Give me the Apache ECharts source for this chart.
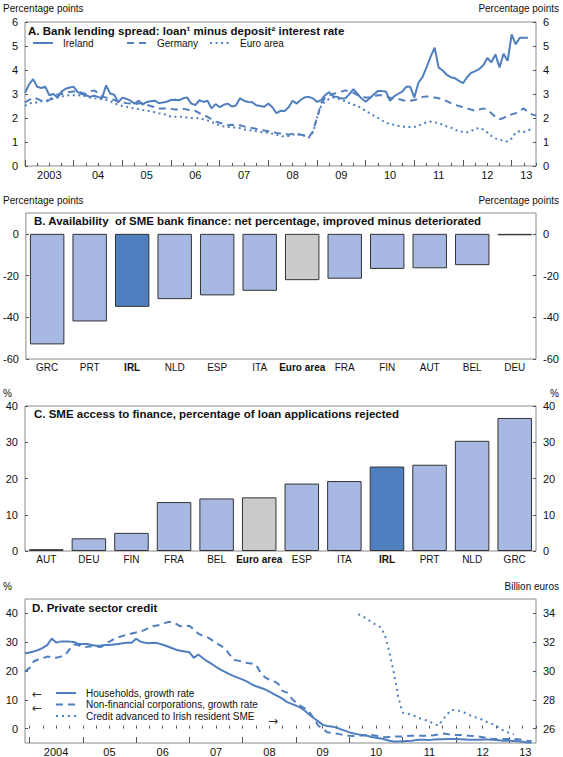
<!DOCTYPE html>
<html><head><meta charset="utf-8">
<script src="https://cdn.jsdelivr.net/npm/echarts@6/dist/echarts.min.js"></script>
<style>html,body{margin:0;padding:0;background:#fff}#c{width:563px;height:757px}</style>
</head><body><div id="c"></div>
<script>
// ---------- Panel A: bank lending spread, monthly from Jan 2003 ----------
const spreadStart = 2003;
const ireland = [3.05,3.4,3.62,3.3,3.25,3.3,2.95,3.0,2.85,3.1,3.22,3.27,
 3.3,3.08,3.0,2.95,2.88,2.93,2.88,2.82,3.36,3.02,2.97,2.65,
 2.85,2.8,2.72,2.6,2.72,2.56,2.67,2.7,2.72,2.62,2.65,2.68,
 2.75,2.76,2.74,2.82,2.85,2.6,2.54,2.74,2.67,2.72,2.4,2.58,
 2.45,2.55,2.6,2.48,2.52,2.82,2.72,2.67,2.66,2.53,2.5,2.47,
 2.6,2.45,2.2,2.3,2.29,2.45,2.72,2.6,2.76,2.86,2.88,2.82,
 2.67,2.74,2.95,3.08,2.9,2.88,2.81,2.82,3.0,3.2,3.0,2.81,
 2.68,2.82,2.98,3.12,3.12,3.1,2.72,2.9,3.0,3.1,3.3,3.3,
 2.85,3.47,3.7,4.11,4.55,4.93,4.1,3.98,3.8,3.7,3.66,3.55,
 3.45,3.7,3.88,3.95,4.04,4.2,4.5,4.32,4.65,4.11,4.68,4.38,
 5.48,5.07,5.34,5.34,5.34];
const germany = [2.65,2.75,2.85,2.8,2.72,2.65,2.75,2.9,2.98,3.0,3.05,3.08,
 3.1,3.1,3.05,3.0,3.1,3.15,3.05,2.9,2.85,2.8,2.75,2.68,
 2.65,2.62,2.6,2.58,2.6,2.62,2.55,2.5,2.45,2.4,2.4,2.4,
 2.38,2.35,2.35,2.38,2.35,2.3,2.3,2.2,2.1,2.05,1.95,1.85,
 1.8,1.75,1.7,1.72,1.68,1.7,1.65,1.62,1.58,1.55,1.5,1.48,
 1.45,1.42,1.38,1.35,1.35,1.3,1.35,1.32,1.3,1.28,1.2,1.45,
 2.0,2.6,2.85,2.95,3.0,3.05,3.1,3.15,3.1,3.05,2.95,2.9,
 2.85,2.85,2.9,2.95,2.95,2.9,2.85,2.8,2.8,2.75,2.7,2.72,
 2.75,2.8,2.88,2.9,2.88,2.85,2.82,2.78,2.7,2.62,2.55,2.5,
 2.45,2.4,2.35,2.3,2.35,2.4,2.35,2.2,2.05,1.95,2.0,2.1,
 2.15,2.2,2.3,2.4,2.25,2.15,2.1];
const euroArea = [2.5,2.6,2.65,2.65,2.7,2.72,2.75,2.8,2.85,2.9,2.92,2.95,
 2.95,2.95,2.93,2.9,2.85,2.82,2.8,2.78,2.75,2.7,2.62,2.55,
 2.5,2.47,2.43,2.4,2.37,2.33,2.3,2.27,2.24,2.2,2.17,2.13,
 2.05,2.05,2.05,2.05,2.02,2.0,2.0,1.98,1.95,1.9,1.85,1.75,
 1.7,1.65,1.62,1.6,1.6,1.58,1.52,1.5,1.48,1.45,1.42,1.4,
 1.38,1.35,1.3,1.25,1.22,1.25,1.3,1.35,1.3,1.25,1.18,1.4,
 2.0,2.5,2.7,2.8,2.85,2.82,2.75,2.7,2.62,2.55,2.5,2.4,
 2.3,2.2,2.1,2.0,1.9,1.8,1.75,1.72,1.68,1.65,1.62,1.62,
 1.63,1.68,1.75,1.82,1.85,1.82,1.78,1.72,1.65,1.6,1.52,1.45,
 1.42,1.4,1.45,1.55,1.58,1.52,1.4,1.25,1.15,1.1,1.05,1.02,
 1.15,1.4,1.45,1.42,1.48,1.55];
const yearLabelsA = ['2003','04','05','06','07','08','09','10','11','12','13'];

// ---------- Panel B ----------
const countriesB = ['GRC','PRT','IRL','NLD','ESP','ITA','Euro area','FRA','FIN','AUT','BEL','DEU'];
const availability = [-53,-42,-35,-31.3,-29.5,-27.3,-22.2,-21.5,-16.8,-16.5,-15,-0.7];

// ---------- Panel C ----------
const countriesC = ['AUT','DEU','FIN','FRA','BEL','Euro area','ESP','ITA','IRL','PRT','NLD','GRC'];
const rejected = [0.5,3.5,5.0,13.5,14.5,14.8,18.6,19.3,23.3,23.8,30.4,36.7];

// ---------- Panel D: monthly from Dec 2003 ----------
const creditStart = 2003 + 11/12;
const households = [26.2,26.4,26.8,27.3,28,29,31.3,29.9,30.2,30.2,30.2,30.1,
 29.4,29.4,29.4,29.0,28.8,28.8,29.0,29.0,29.2,29.4,29.6,29.8,
 29.8,31.2,30.2,29.8,29.6,29.8,29.6,29.1,28.6,28.0,27.4,27.0,
 26.8,26.5,24.6,25.7,24.5,23.4,22.5,21.4,20.5,19.7,18.9,18.2,
 17.6,17.0,16.3,15.4,14.7,14.2,13.6,12.8,12.0,11.2,10.3,9.2,
 8.6,8.0,7.3,6.2,4.8,3.6,2.5,1.3,0.9,0.7,0.4,-0.2,
 -0.7,-1.3,-1.7,-2.0,-2.3,-2.5,-2.9,-3.2,-3.4,-3.8,-4.2,-4.5,
 -4.5,-4.4,-4.3,-4.2,-4.0,-3.9,-3.9,-4.0,-3.8,-3.7,-3.7,-3.6,
 -3.6,-3.6,-3.7,-3.8,-3.9,-3.9,-3.9,-3.8,-3.8,-3.9,-4.0,-4.1,
 -4.2,-4.2,-4.3,-4.4,-4.6,-4.8,-4.8];
const nfc = [19.8,21.0,23.4,24.0,24.4,25.0,24.8,24.6,25.0,25.4,27.5,29.2,
 29.0,28.3,28.4,28.6,28.4,28.3,29.2,30.2,31.1,31.7,32.2,32.6,
 33.0,33.4,33.7,34.3,35.2,35.6,35.9,36.4,36.9,37.1,36.4,35.5,
 35.5,35.7,34.4,33.0,32.2,31.8,30.8,29.7,28.8,27.9,25.8,23.8,
 23.6,23.2,22.8,22.6,22.2,19.5,17.8,17.0,16.5,15.5,13.0,12.5,
 10.5,9.0,7.9,7.0,5.8,3.5,1.0,0.0,-1.3,-1.5,-1.7,-2.0,
 -2.3,-2.5,-2.6,-2.5,-2.3,-2.2,-2.2,-2.5,-2.8,-3.0,-2.9,-2.8,
 -2.7,-2.7,-2.6,-2.5,-2.5,-2.5,-2.5,-2.5,-2.3,-2.0,-1.7,-1.9,
 -2.2,-2.2,-2.2,-2.3,-2.5,-2.6,-2.7,-3.0,-3.3,-3.5,-3.6,-3.6,
 -3.6,-3.6,-3.6,-3.7,-3.9,-4.2,-4.3];
const smeStart = 2010 + 2/12; // Mar 2010
const smeCredit = [33.95,33.8,33.6,33.4,33.2,33.05,32.5,31.3,29.9,28.2,27.1,27.05,
 26.95,26.85,26.7,26.6,26.5,26.35,26.2,26.6,27.0,27.3,27.3,27.2,
 27.1,26.95,26.8,26.75,26.6,26.45,26.35,26.2,26.0,25.8,25.7,25.6];
const yearLabelsD = ['2004','05','06','07','08','09','10','11','12','13'];

// ---------- helpers ----------
const FONT = '"Liberation Sans", Arial, sans-serif';
const BLUE = '#4f7fbf', LIGHT = '#a7b8e2', GRAY = '#cbcbcb', TXT = '#111';
const monthly = (start, arr) => arr.map((v, i) => [start + i / 12, v]);
function range(a, b, step) { const r = []; for (let v = a; v <= b + 1e-9; v += step) r.push(+v.toFixed(4)); return r; }
function barItems(names, vals) {
  return vals.map((v, i) => ({ value: v, itemStyle: { color: names[i] === 'IRL' ? BLUE : (names[i] === 'Euro area' ? GRAY : LIGHT) } }));
}
const boldCat = v => (v === 'IRL' || v === 'Euro area') ? '{b|' + v + '}' : v;

const gridBase = { left: 25, right: 27, show: true, borderColor: '#8a8a8a', borderWidth: 1 };
const hidden = { show: false };

function timeAxes(gi, min, max, firstYear, lastYear, labels, lastLabelPos) {
  const labelPos = range(firstYear + 0.5, lastYear - 0.5, 1);
  labelPos.push(lastLabelPos);
  return [
    { gridIndex: gi, type: 'value', min: min, max: max, axisLine: hidden, splitLine: hidden,
      axisTick: { inside: true, length: 3, customValues: range(Math.ceil(min * 4) / 4, max, 0.25), lineStyle: { color: '#555' } },
      axisLabel: { customValues: labelPos, formatter: v => labels[Math.floor(v + 1e-6) - firstYear],
        fontSize: 11, color: TXT, margin: 3, fontFamily: FONT } },
    { gridIndex: gi, type: 'value', min: min, max: max, position: 'bottom', axisLine: hidden, splitLine: hidden,
      axisTick: { inside: true, length: 6, customValues: range(firstYear, lastYear, 1), lineStyle: { color: '#555' } },
      axisLabel: hidden }
  ];
}

const catLabel = { interval: 0, fontSize: 10, color: TXT, margin: 3, fontFamily: FONT, formatter: boldCat,
  rich: { b: { fontWeight: 'bold', fontSize: 10, color: TXT, fontFamily: FONT } } };
const xAxes = [
  ...timeAxes(0, 2003, 2013.5, 2003, 2013, yearLabelsA, 2013.3),
  { gridIndex: 1, type: 'category', data: countriesB, axisLine: hidden, axisTick: hidden, axisLabel: catLabel },
  { gridIndex: 2, type: 'category', data: countriesC, axisLine: hidden, axisTick: hidden, axisLabel: catLabel },
  ...timeAxes(3, creditStart, 2013.5, 2004, 2013, yearLabelsD, 2013.3)
];

function yAx(gi, pos, opts) {
  return Object.assign({ gridIndex: gi, type: 'value', position: pos, axisLine: hidden, splitLine: hidden,
    axisTick: { show: true, inside: true, length: 3, lineStyle: { color: '#555' } },
    axisLabel: { fontSize: 11, color: TXT, margin: 7, fontFamily: FONT } }, opts);
}
const yAxes = [
  yAx(0, 'left', { min: 0, max: 6, interval: 1 }),
  yAx(0, 'right', { min: 0, max: 6, interval: 1 }),
  yAx(1, 'left', { min: -60, max: 10, interval: 20 }),
  yAx(1, 'right', { min: -60, max: 10, interval: 20 }),
  yAx(2, 'left', { min: 0, max: 40, interval: 10 }),
  yAx(2, 'right', { min: 0, max: 40, interval: 10 }),
  yAx(3, 'left', { min: -5, max: 45 }),
  yAx(3, 'right', { min: 25, max: 35 })
];
yAxes[2].axisLabel.showMaxLabel = false; yAxes[3].axisLabel.showMaxLabel = false;
yAxes[6].axisLabel.customValues = [0, 10, 20, 30, 40]; yAxes[6].axisTick.customValues = [0, 10, 20, 30, 40];
yAxes[7].axisLabel.customValues = [26, 28, 30, 32, 34]; yAxes[7].axisTick.customValues = [26, 28, 30, 32, 34];

const lineSeries = (name, data, xi, yi, type) => ({
  name, type: 'line', data, xAxisIndex: xi, yAxisIndex: yi, symbol: 'none', showSymbol: false,
  lineStyle: { color: BLUE, width: 2, type: type }, itemStyle: { color: BLUE }
});

const txt = (text, x, y, opt) => ({ type: 'text', x, y, silent: true,
  style: Object.assign({ text, fill: TXT, font: '10px ' + FONT, textVerticalAlign: 'middle', textAlign: 'left' }, opt || {}) });
const TITLE = 'bold 11.5px ' + FONT;
const ARROW = { font: '12px "DejaVu Sans"', fill: '#333' };

const legendBase = { selectedMode: false, padding: 0, itemWidth: 20, itemHeight: 12,
  itemStyle: { opacity: 0, borderWidth: 0 },
  textStyle: { fontSize: 10, color: TXT, fontFamily: FONT, padding: [0, 0, 0, 5] } };

const option = {
  animation: false,
  backgroundColor: '#fff',
  textStyle: { fontFamily: FONT },
  grid: [
    Object.assign({ top: 22, height: 144 }, gridBase),
    Object.assign({ top: 213, height: 146 }, gridBase),
    Object.assign({ top: 406, height: 145 }, gridBase),
    Object.assign({ top: 599, height: 145 }, gridBase)
  ],
  xAxis: xAxes,
  yAxis: yAxes,
  legend: [
    Object.assign({ data: ['Ireland'], left: 32, top: 38 }, legendBase),
    Object.assign({ data: ['Germany'], left: 126, top: 38 }, legendBase),
    Object.assign({ data: ['Euro area'], left: 209, top: 38 }, legendBase),
    Object.assign({ data: ['Households, growth rate', 'Non-financial corporations, growth rate', 'Credit advanced to Irish resident SME'],
      orient: 'vertical', left: 55, top: 688, itemGap: 1.5 }, legendBase)
  ],
  series: [
    lineSeries('Ireland', monthly(spreadStart, ireland), 0, 0, 'solid'),
    lineSeries('Germany', monthly(spreadStart, germany), 0, 0, [7, 5]),
    lineSeries('Euro area', monthly(spreadStart, euroArea), 0, 0, [2, 3.5]),
    { type: 'bar', data: barItems(countriesB, availability), xAxisIndex: 2, yAxisIndex: 2, barCategoryGap: '19%',
      itemStyle: { borderColor: '#333', borderWidth: 1 } },
    { type: 'bar', data: barItems(countriesC, rejected), xAxisIndex: 3, yAxisIndex: 4, barCategoryGap: '19%',
      itemStyle: { borderColor: '#333', borderWidth: 1 } },
    lineSeries('Households, growth rate', monthly(creditStart, households), 4, 6, 'solid'),
    lineSeries('Non-financial corporations, growth rate', monthly(creditStart, nfc), 4, 6, [7, 5]),
    lineSeries('Credit advanced to Irish resident SME', monthly(smeStart, smeCredit), 4, 7, [2, 4])
  ],
  graphic: [
    txt('Percentage points', 3, 8), txt('Percentage points', 559, 8, { textAlign: 'right' }),
    txt('A. Bank lending spread: loan\u00b9 minus deposit\u00b2 interest rate', 28, 31, { font: TITLE }),
    txt('Percentage points', 3, 200), txt('Percentage points', 559, 200, { textAlign: 'right' }),
    txt('B. Availability  of SME bank finance: net percentage, improved minus deteriorated', 34, 221, { font: TITLE }),
    txt('%', 3, 393), txt('%', 559, 393, { textAlign: 'right' }),
    txt('C. SME access to finance, percentage of loan applications rejected', 34, 414, { font: TITLE }),
    txt('%', 3, 586), txt('Billion euros', 559, 586, { textAlign: 'right' }),
    txt('D. Private sector credit', 32, 608, { font: TITLE }),
    txt('\u2190', 32, 694, ARROW),
    txt('\u2190', 32, 708, ARROW),
    txt('\u2192', 268, 721, ARROW)
  ]
};

const chart = echarts.init(document.getElementById('c'), null, { renderer: 'svg', width: 563, height: 757 });
chart.setOption(option);
</script>
</body></html>
